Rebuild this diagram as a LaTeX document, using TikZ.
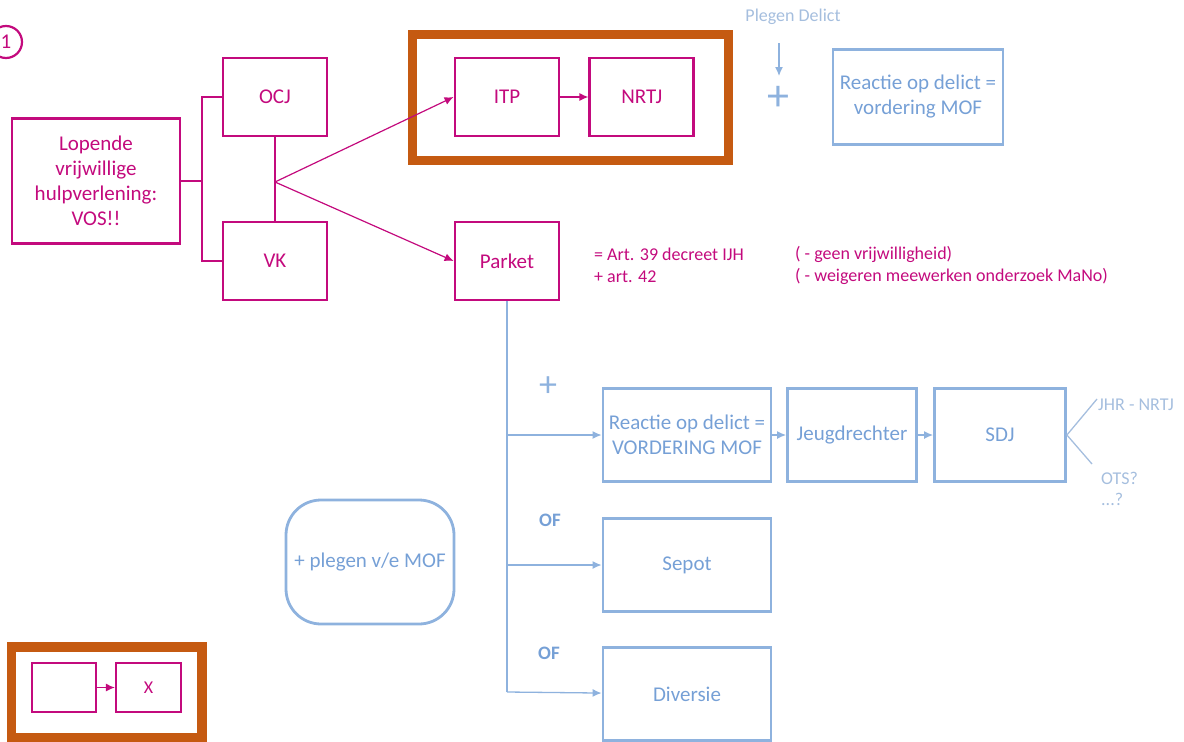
\documentclass[tikz,border=0pt]{standalone}
\usepackage{fontspec}
\setmainfont{Carlito}
\usetikzlibrary{arrows.meta,positioning}
\definecolor{roze}{RGB}{195,10,125}
\definecolor{lichtblauw}{RGB}{142,178,222}
\definecolor{blauwtekst}{RGB}{118,160,214}
\definecolor{grijsblauw}{RGB}{165,190,222}
\definecolor{oranje}{RGB}{197,90,17}

\begin{document}
\begin{tikzpicture}[
			x=1pt, y=-1pt,
			>={Latex[length=9pt,width=8pt]},
			font=\fontsize{21}{25}\selectfont,
			pinkbox/.style={
				rectangle,
				draw=roze,
				line width=2.8pt,
				text=roze,
				align=center,
				minimum width=104pt,
				minimum height=78pt
			},
			bluebox/.style={
				rectangle,
				draw=lichtblauw,
				line width=2.8pt,
				text=blauwtekst,
				align=center,
				minimum width=168pt,
				minimum height=93pt
			},
			frame/.style={
				draw=oranje,
				line width=9pt
			},
			pinkline/.style={draw=roze, line width=1.2pt},
			blueline/.style={draw=lichtblauw, line width=1.3pt},
			note/.style={font=\fontsize{18}{22}\selectfont, inner sep=0pt},
			plus/.style={text=lichtblauw, font=\fontsize{44}{44}\selectfont, inner sep=0pt}
			]
			\useasboundingbox (0,0) rectangle (1184,742);
			
			% left part: start and services
			\node [circle, draw=roze, line width=2.2pt, text=roze, minimum size=32pt, inner sep=0pt] (nummer) at (6,42) {1};
			
			\node [pinkbox, minimum width=168pt, minimum height=125pt] (lopende) at (96,181)
			{Lopende\\vrijwillige\\hulpverlening:\\VOS!!};
			
			\node [pinkbox] (ocj) at (275,97) {OCJ};
			\node [pinkbox] (vk) at (275,261) {VK};
			
			\coordinate (brug) at (202,181);
			\coordinate (knoop) at (275,182);
			
			\draw [pinkline] (lopende.east) -- (brug);
			\draw [pinkline] (ocj.west) -| (brug) |- (vk.west);
			\draw [pinkline] (ocj) -- (vk);
			
			% orange frame with ITP and NRTJ
			\draw [frame] (412.5,34.5) rectangle (728.5,160.5);
			
			\node [pinkbox] (itp) at (507,97) {ITP};
			\node [pinkbox, right=28pt of itp] (nrtj) {NRTJ};
			
			\node [pinkbox] (parket) at (507,261) {Parket};
			
			\draw [pinkline,->] (knoop) -- (itp.west);
			\draw [pinkline,->] (knoop) -- (parket.west);
			\draw [pinkline,->] (itp) -- (nrtj);
			
			\node [note, text=roze, anchor=west, align=left] (artikels) at (594,265)
			{= Art. 39 decreet IJH\\+ art. 42};
			\node [note, text=roze, anchor=west, align=left] (redenen) at (795,265)
			{( - geen vrijwilligheid)\\( - weigeren meewerken onderzoek MaNo)};
			
			% top right
			\node [note, text=grijsblauw] (plegen) at (793,17) {Plegen Delict};
			\coordinate (pijlbegin) at (779,43);
			\coordinate (pijleinde) at (779,76);
			\draw [blueline,->] (pijlbegin) -- (pijleinde);
			\node [plus] (plus1) at (778,98) {+};
			
			\node [bluebox, minimum width=170pt, minimum height=95pt] (reactie) at (918,97)
			{Reactie op delict =\\vordering MOF};
			
			% branches under Parket
			\coordinate (tak1) at (507,435);
			\coordinate (tak2) at (507,565);
			\coordinate (tak3) at (507,692);
			
			\node [bluebox] (vordering) at (687,435) {Reactie op delict =\\VORDERING MOF};
			\node [bluebox, minimum width=129pt] (jeugd) at (852,435) {Jeugdrechter};
			\node [bluebox, minimum width=131pt] (sdj) at (1000,435) {SDJ};
			\node [bluebox] (sepot) at (687,565) {Sepot};
			\node [bluebox] (diversie) at (687,694) {Diversie};
			
			\draw [blueline] (parket.south) -- (tak3);
			\draw [blueline,->] (tak1) -- (vordering);
			\draw [blueline,->] (tak2) -- (sepot);
			\draw [blueline,->] (tak3) -- (diversie);
			\draw [blueline,->] (vordering) -- (jeugd);
			\draw [blueline,->] (jeugd) -- (sdj);
			
			\node [plus, font=\fontsize{36}{36}\selectfont] (plus2) at (548,387) {+};
			\node [text=blauwtekst, font=\fontsize{19}{19}\selectfont\bfseries] (of1) at (550,520) {OF};
			\node [text=blauwtekst, font=\fontsize{19}{19}\selectfont\bfseries] (of2) at (549,653) {OF};
			
			\node [note, text=grijsblauw, anchor=west] (jhr) at (1098,405) {JHR - NRTJ};
			\node [note, text=grijsblauw, anchor=west] (ots) at (1101,478) {OTS?};
			\node [note, text=grijsblauw, anchor=west] (nog) at (1101,499) {...?};
			\draw [blueline, draw=grijsblauw] (sdj.east) -- (1097,399);
			\draw [blueline, draw=grijsblauw] (sdj.east) -- (1092,464);
			
			\node [bluebox, rounded corners=35pt, minimum height=124pt] (mof) at (370,562) {+ plegen v/e MOF};
			
			% legend bottom left
			\draw [frame, line width=9.5pt] (11.5,647) rectangle (202,738);
			\node [pinkbox, line width=2.2pt, minimum width=64pt, minimum height=49pt] (leeg) at (64,687.5) {};
			\node [pinkbox, line width=2.2pt, minimum width=65pt, minimum height=49pt, font=\fontsize{18}{18}\selectfont] (x) at (148.5,687.5) {X};
			\draw [pinkline,->] (leeg) -- (x);
			
			\end{tikzpicture}
\end{document}
